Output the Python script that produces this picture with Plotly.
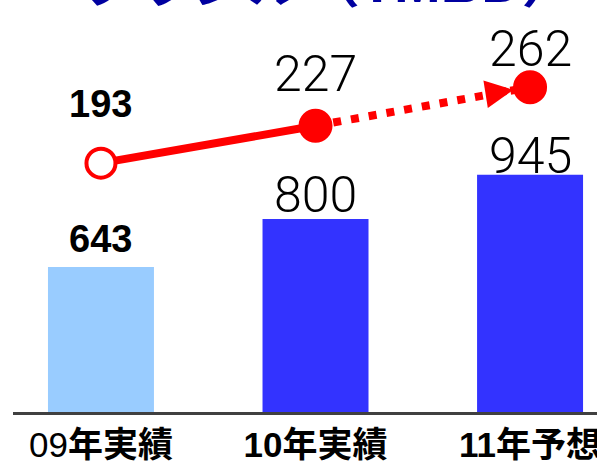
import plotly.graph_objects as go

# ---- data ----
categories = ["09年実績", "10年実績", "11年予想"]
tick_labels = ["09<b>年実績</b>", "<b>10年実績</b>", "<b>11年予想</b>"]
bar_values = [643, 800, 945]
line_values = [193, 227, 262]
title_text = "ブラジル（TMBD）"

# ---- styles ----
RED = "#FF0000"
bar_colors = ["#99CCFF", "#3333FF", "#3333FF"]
BOLD_FONT = "Liberation Sans, Arial, Noto Sans CJK JP, sans-serif"
THIN_FONT = "Roboto, DejaVu Sans, sans-serif"

fig = go.Figure()

fig.add_trace(go.Bar(
    x=categories, y=bar_values, width=0.494,
    marker=dict(color=bar_colors, line=dict(width=0)),
    yaxis="y", hoverinfo="skip",
))

# solid segment (actual)
fig.add_trace(go.Scatter(
    x=categories[:2], y=line_values[:2], yaxis="y2", mode="lines+markers",
    line=dict(color=RED, width=8),
    marker=dict(size=[29, 30], color=["white", RED], opacity=1,
                line=dict(color=RED, width=4)),
    hoverinfo="skip",
))

# dotted segment (forecast)
fig.add_trace(go.Scatter(
    x=categories[1:], y=line_values[1:], yaxis="y2", mode="lines+markers",
    line=dict(color=RED, width=8, dash="8px,10px"),
    marker=dict(size=[0, 30], color=RED, opacity=1,
                line=dict(color=RED, width=[0, 4])),
    hoverinfo="skip",
))

annotations = []

# arrow head before the forecast marker
annotations.append(dict(
    x=categories[2], y=line_values[2], xref="x", yref="y2",
    ax=-44, ay=7, text="", showarrow=True,
    arrowhead=2, arrowsize=0.7, arrowwidth=8, arrowcolor=RED, standoff=17,
))

# bar value labels
bar_label_fonts = [
    dict(family=BOLD_FONT, size=38, color="black", weight="bold"),
    dict(family=THIN_FONT, size=50, color="black", weight=300),
    dict(family=THIN_FONT, size=50, color="black", weight=300),
]
bar_label_shift = [28, 24, 19]
for c, v, f, s in zip(categories, bar_values, bar_label_fonts, bar_label_shift):
    annotations.append(dict(
        x=c, y=v, xref="x", yref="y", text=str(v), showarrow=False,
        yanchor="middle", yshift=s, font=f,
    ))

# line value labels
line_label_fonts = [
    dict(family=BOLD_FONT, size=38, color="black", weight="bold"),
    dict(family=THIN_FONT, size=50, color="black", weight=300),
    dict(family=THIN_FONT, size=50, color="black", weight=300),
]
line_label_shift = [59, 52, 38]
for c, v, f, s in zip(categories, line_values, line_label_fonts, line_label_shift):
    annotations.append(dict(
        x=c, y=v, xref="x", yref="y2", text=str(v), showarrow=False,
        yanchor="middle", yshift=s, font=f,
    ))

# cropped title at the very top
annotations.append(dict(
    x=(580 - 13) / 584, y=1, xref="paper", yref="paper", xanchor="right",
    yanchor="bottom", yshift=-16, text=f"<b>{title_text}</b>", showarrow=False,
    font=dict(family=BOLD_FONT, size=56, color="#0000A0"),
))

fig.update_layout(
    width=597, height=464,
    margin=dict(l=13, r=0, t=0, b=52, pad=0, autoexpand=False),
    paper_bgcolor="white", plot_bgcolor="white",
    showlegend=False, hovermode=False,
    annotations=annotations,
    xaxis=dict(
        type="category", range=[-0.410, 2.312], automargin=False,
        tickvals=categories, ticktext=tick_labels,
        tickfont=dict(family=BOLD_FONT, size=35, color="black"),
        showline=True, linecolor="#404040", linewidth=3,
        ticks="", showgrid=False, zeroline=False,
        ticklabeloverflow="allow", ticklabelstandoff=0,
    ),
    yaxis=dict(range=[168, 1518], visible=False, showgrid=False, zeroline=False,
               automargin=False),
    yaxis2=dict(range=[-33, 341.2], overlaying="y", visible=False,
                showgrid=False, zeroline=False, automargin=False),
)

fig.write_html(
    "out.html",
    config={"displayModeBar": False},
    post_script="document.body.style.margin='0px';document.body.style.overflow='hidden';",
)
